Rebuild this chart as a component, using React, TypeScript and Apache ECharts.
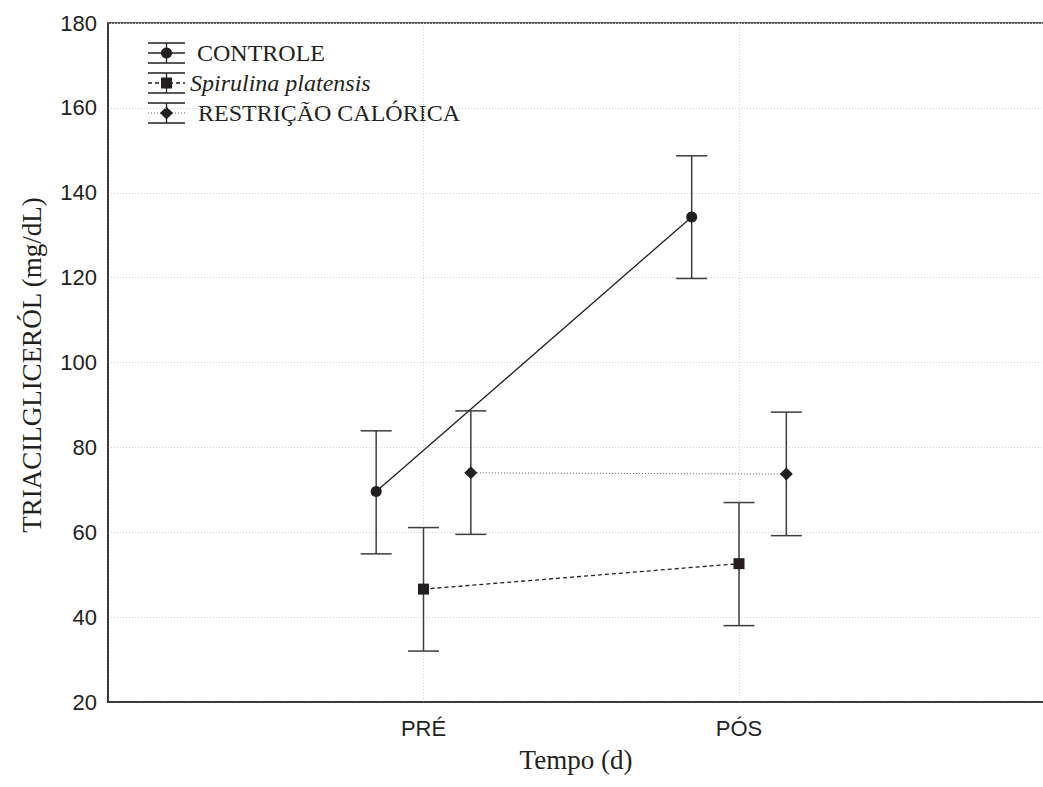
import React, { useEffect, useRef } from "react";
import * as echarts from "echarts";

const categories = ["PRÉ", "PÓS"];
const seriesNames = ["CONTROLE", "Spirulina platensis", "RESTRIÇÃO CALÓRICA"];

const controleMean = [69.6, 134.3];
const controleLow = [54.9, 119.8];
const controleHigh = [83.9, 148.7];

const spirulinaMean = [46.6, 52.6];
const spirulinaLow = [32.0, 38.0];
const spirulinaHigh = [61.1, 67.0];

const restricaoMean = [74.0, 73.7];
const restricaoLow = [59.5, 59.2];
const restricaoHigh = [88.6, 88.3];

const groupOffsets = [-0.15, 0, 0.15];

const yMin = 20;
const yMax = 180;
const yStep = 20;

const INK = "#231f20";
const BAR = "#3c3c3c";

function pts(mean: number[], offset: number) {
  return mean.map((v, i) => [i + 1 + offset, v]);
}
function bars(lo: number[], hi: number[], offset: number) {
  return lo.map((v, i) => [i + 1 + offset, v, hi[i]]);
}

function errorSeries(lo: number[], hi: number[], offset: number) {
  return {
    type: "custom",
    z: 2,
    silent: true,
    renderItem: (params: any, api: any) => {
      const x = api.value(0);
      const pLo = api.coord([x, api.value(1)]);
      const pHi = api.coord([x, api.value(2)]);
      const hw = 15.5;
      const st = { stroke: BAR, lineWidth: 1.5 };
      return {
        type: "group",
        children: [
          { type: "line", shape: { x1: pLo[0], y1: pLo[1], x2: pHi[0], y2: pHi[1] }, style: st },
          { type: "line", shape: { x1: pLo[0] - hw, y1: pLo[1], x2: pLo[0] + hw, y2: pLo[1] }, style: st },
          { type: "line", shape: { x1: pHi[0] - hw, y1: pHi[1], x2: pHi[0] + hw, y2: pHi[1] }, style: st },
        ],
      };
    },
    encode: { x: 0, y: [1, 2] },
    data: bars(lo, hi, offset),
  };
}

function legendEntry(cy: number, kind: number) {
  const x1 = 148;
  const x2 = 185;
  const cx = 166.5;
  const st = { stroke: INK, lineWidth: 1.3 };
  const dash = kind === 0 ? undefined : kind === 1 ? [4, 3] : [1, 2];
  const children: any[] = [
    { type: "line", shape: { x1, y1: cy - 10, x2, y2: cy - 10 }, style: st },
    { type: "line", shape: { x1, y1: cy + 10, x2, y2: cy + 10 }, style: st },
    { type: "line", shape: { x1: cx, y1: cy - 10, x2: cx, y2: cy + 10 }, style: st },
    {
      type: "line",
      shape: { x1, y1: cy, x2, y2: cy },
      style: { stroke: kind === 2 ? "#555" : INK, lineWidth: kind === 2 ? 1 : 1.3, lineDash: dash },
    },
  ];
  if (kind === 0) {
    children.push({ type: "circle", shape: { cx, cy, r: 5.5 }, style: { fill: INK } });
  } else if (kind === 1) {
    children.push({ type: "rect", shape: { x: cx - 5.5, y: cy - 5.5, width: 11, height: 11 }, style: { fill: INK } });
  } else {
    children.push({
      type: "polygon",
      shape: { points: [[cx, cy - 6.5], [cx + 6.5, cy], [cx, cy + 6.5], [cx - 6.5, cy]] },
      style: { fill: INK },
    });
  }
  children.push({
    type: "text",
    style: {
      text: seriesNames[kind],
      x: kind === 1 ? 190 : kind === 2 ? 198 : 197,
      y: cy,
      fontFamily: "Liberation Serif",
      fontSize: 24,
      fontStyle: kind === 1 ? "italic" : "normal",
      fill: INK,
      verticalAlign: "middle",
      align: "left",
    },
  });
  return children;
}

export default function App() {
  const ref = useRef<HTMLDivElement>(null);
  useEffect(() => {
    if (!ref.current) return;
    const chart = echarts.init(ref.current, undefined, { renderer: "svg" });
    const option: any = {
      animation: false,
      backgroundColor: "#ffffff",
      grid: {
        left: 108,
        top: 23,
        bottom: 85,
        width: 946.5,
        outerBoundsMode: "none",
        containLabel: false,
        show: true,
        borderColor: "#2a2a2a",
        borderWidth: 1.5,
        backgroundColor: "transparent",
      },
      xAxis: {
        type: "value",
        min: 0,
        max: 3,
        interval: 1,
        axisLine: { show: true, lineStyle: { color: "#2a2a2a", width: 1.5 } },
        axisTick: { show: false },
        splitLine: { show: true, lineStyle: { color: "#d4d4d4", type: [1, 2], width: 1 } },
        axisLabel: {
          margin: 15,
          fontFamily: "Liberation Sans",
          fontSize: 22,
          color: "#222",
          formatter: (v: number) => categories[v - 1] ?? "",
        },
      },
      yAxis: {
        type: "value",
        min: yMin,
        max: yMax,
        interval: yStep,
        axisLine: { show: true, lineStyle: { color: "#2a2a2a", width: 1.5 } },
        axisTick: { show: false },
        splitLine: { show: true, lineStyle: { color: "#d4d4d4", type: [1, 2], width: 1 } },
        axisLabel: {
          margin: 11,
          fontFamily: "Liberation Sans",
          fontSize: 22,
          color: "#222",
        },
      },
      graphic: [
        ...legendEntry(53, 0),
        ...legendEntry(83, 1),
        ...legendEntry(113, 2),
        {
          type: "text",
          x: 32,
          y: 365,
          rotation: Math.PI / 2,
          style: {
            text: "TRIACILGLICERÓL (mg/dL)",
            x: 0,
            y: 0,
            fontFamily: "Liberation Serif",
            fontSize: 27,
            fill: INK,
            align: "center",
            verticalAlign: "middle",
          },
        },
        {
          type: "text",
          style: {
            text: "Tempo (d)",
            x: 576,
            y: 760,
            fontFamily: "Liberation Serif",
            fontSize: 27,
            fill: INK,
            align: "center",
            verticalAlign: "middle",
          },
        },
      ],
      series: [
        errorSeries(controleLow, controleHigh, groupOffsets[0]),
        errorSeries(spirulinaLow, spirulinaHigh, groupOffsets[1]),
        errorSeries(restricaoLow, restricaoHigh, groupOffsets[2]),
        {
          name: seriesNames[0],
          type: "line",
          z: 3,
          data: pts(controleMean, groupOffsets[0]),
          symbol: "circle",
          symbolSize: 11,
          itemStyle: { color: INK },
          lineStyle: { color: INK, width: 1.3, type: "solid" },
        },
        {
          name: seriesNames[1],
          type: "line",
          z: 3,
          data: pts(spirulinaMean, groupOffsets[1]),
          symbol: "rect",
          symbolSize: 11,
          itemStyle: { color: INK },
          lineStyle: { color: INK, width: 1.3, type: [4, 3] },
        },
        {
          name: seriesNames[2],
          type: "line",
          z: 3,
          data: pts(restricaoMean, groupOffsets[2]),
          symbol: "diamond",
          symbolSize: 13,
          itemStyle: { color: INK },
          lineStyle: { color: "#555", width: 1, type: [1, 2] },
        },
      ],
    };
    chart.setOption(option);
    return () => chart.dispose();
  }, []);
  return (
    <div
      ref={ref}
      style={{ position: "fixed", left: 0, top: 0, width: 1043, height: 787, background: "#fff" }}
    />
  );
}
